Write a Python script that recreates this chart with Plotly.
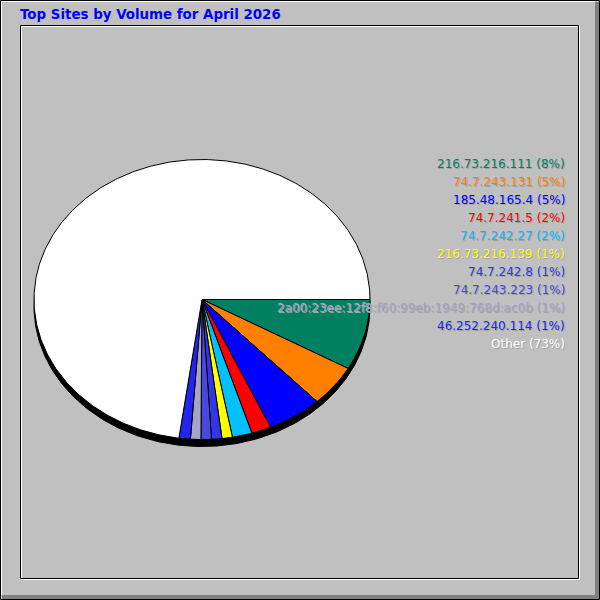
import numpy as np
import plotly.graph_objects as go

# top sites for the month, share of total volume (percent)
sites = ["216.73.216.111", "74.7.243.131", "185.48.165.4", "74.7.241.5",
         "74.7.242.27", "216.73.216.139", "74.7.242.8", "74.7.243.223",
         "2a00:23ee:12f8:f60:99eb:1949:768d:ac0b", "46.252.240.114"]
shares = [8.2, 4.8, 5.3, 1.9, 1.9, 1.0, 1.0, 1.0, 1.0, 1.1]
other_share = 72.8
colors = ["#008060", "#ff8000", "#0000ff", "#ff0000", "#00c0ff",
          "#ffff00", "#3535e8", "#4848e0", "#a4a4c8", "#2424f0"]
title = "Top Sites by Volume for April 2026"

# pie geometry (pixel space, y down)
cx, cy = 202, 299.5
rx, ry = 168, 140
depth = 7


def wedge(a0, a1):
    t = np.linspace(a0, a1, max(int(abs(a1 - a0) * 80), 4))
    xs = np.concatenate([[cx], cx + rx * np.cos(t), [cx]])
    ys = np.concatenate([[cy], cy + ry * np.sin(t), [cy]])
    return xs, ys


fig = go.Figure()

# shadow / depth
t = np.linspace(0, 2 * np.pi, 400)
fig.add_trace(go.Scatter(x=cx + rx * np.cos(t), y=cy + depth + ry * np.sin(t),
                         fill="toself", fillcolor="black", mode="lines",
                         line=dict(color="black", width=1), hoverinfo="skip"))

total = sum(shares) + other_share
vals = shares + [other_share]
cols = colors + ["#ffffff"]
names = sites + ["Other"]
start = 0.0
for v, c, n in zip(vals, cols, names):
    end = start + 2 * np.pi * v / total
    xs, ys = wedge(start, end)
    fig.add_trace(go.Scatter(x=xs, y=ys, fill="toself", fillcolor=c, mode="lines",
                             line=dict(color="black", width=1), name=n,
                             hoverinfo="name"))
    start = end

# legend text
text_cols = colors + ["#ffffff"]
for i, (n, v, c) in enumerate(zip(names, vals, text_cols)):
    label = "%s (%d%%)" % (n, round(v / total * 100))
    y = 163.5 + 18 * i
    fig.add_annotation(x=568, y=y + 1, text=label, showarrow=False,
                       xanchor="right", yanchor="middle",
                       font=dict(family="DejaVu Sans", size=12, color="#a4a4a4"))
    fig.add_annotation(x=567, y=y, text=label, showarrow=False,
                       xanchor="right", yanchor="middle",
                       font=dict(family="DejaVu Sans", size=12, color=c))

fig.add_annotation(x=18, y=14, text="<b>%s</b>" % title, showarrow=False,
                   xanchor="left", yanchor="middle",
                   font=dict(family="DejaVu Sans", size=13.4, color="#0000ff"))

# frames
shapes = [
    dict(type="rect", x0=0.5, y0=0.5, x1=599.5, y1=599.5, line=dict(color="black", width=1)),
    dict(type="line", x0=1, y0=1.5, x1=595, y1=1.5, line=dict(color="white", width=1)),
    dict(type="line", x0=1.5, y0=1, x1=1.5, y1=595, line=dict(color="white", width=1)),
    dict(type="rect", x0=595, y0=2, x1=599, y1=599, fillcolor="#808080", line_width=0),
    dict(type="rect", x0=2, y0=595, x1=599, y1=599, fillcolor="#808080", line_width=0),
    dict(type="rect", x0=21.5, y0=26.5, x1=579.5, y1=579.5, line=dict(color="white", width=1)),
    dict(type="rect", x0=20.5, y0=25.5, x1=578.5, y1=578.5, line=dict(color="black", width=1)),
]
for s in shapes:
    s["layer"] = "below"
    s["xref"] = "x"
    s["yref"] = "y"
fig.update_layout(shapes=shapes)

fig.update_layout(
    width=600, height=600,
    margin=dict(l=0, r=0, t=0, b=0),
    paper_bgcolor="#c0c0c0", plot_bgcolor="#c0c0c0",
    showlegend=False,
    xaxis=dict(range=[0, 600], visible=False, fixedrange=True),
    yaxis=dict(range=[600, 0], visible=False, fixedrange=True),
)

# drop the default page margin so the chart sits at the window's corner
fig.write_html("out.html", config={"displayModeBar": False},
               post_script="document.body.style.margin='0';")
